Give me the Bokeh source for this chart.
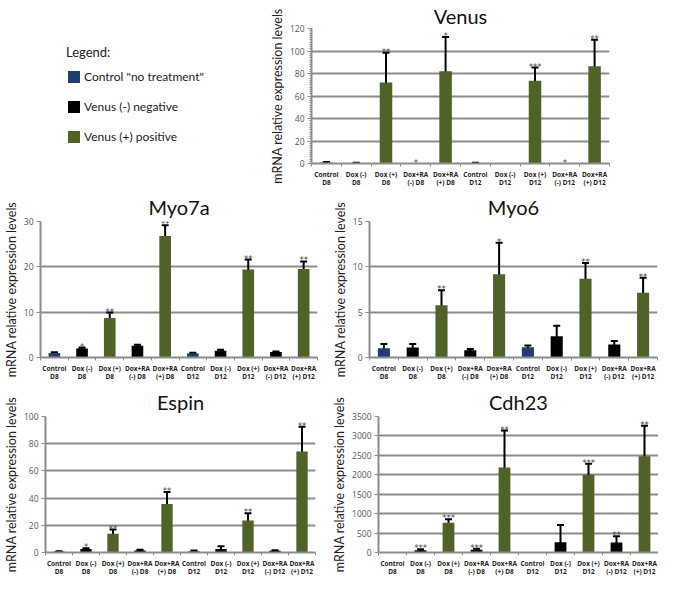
from bokeh.plotting import figure
from bokeh.layouts import row, column
from bokeh.models import (ColumnDataSource, Whisker, TeeHead, FixedTicker, Legend,
                          LegendItem, Range1d)
from bokeh.embed import file_html
from bokeh.resources import INLINE
from bokeh.core.properties import value

# ---------------- data ----------------
categories = ["Control\nD8", "Dox (-)\nD8", "Dox (+)\nD8", "Dox+RA\n(-) D8", "Dox+RA\n(+) D8",
              "Control\nD12", "Dox (-)\nD12", "Dox (+)\nD12", "Dox+RA\n(-) D12", "Dox+RA\n(+) D12"]
groups = ["control", "neg", "pos", "neg", "pos", "control", "neg", "pos", "neg", "pos"]
group_labels = {"control": 'Control "no treatment"', "neg": "Venus (-) negative",
                "pos": "Venus (+) positive"}
group_colors = {"control": "#1f3f6e", "neg": "#000000", "pos": "#4f6228"}
y_label = "mRNA relative expression levels"

venus_vals = [1.0, 0.5, 72, 0, 82, 0.5, 0, 73.5, 0, 86.5]
venus_err = [0.3, 0.2, 26.5, 0, 30.5, 0.2, 0, 11.8, 0, 23.5]
venus_stars = ["", "", "**", "*", "*", "", "", "***", "*", "**"]

myo7a_vals = [1.0, 2.0, 8.7, 2.6, 26.8, 0.9, 1.5, 19.4, 1.2, 19.5]
myo7a_err = [0.15, 0.2, 1.2, 0.2, 2.4, 0.15, 0.2, 2.2, 0.15, 1.7]
myo7a_stars = ["", "*", "**", "", "**", "", "", "**", "", "**"]

myo6_vals = [1.03, 1.1, 5.77, 0.79, 9.17, 1.13, 2.34, 8.69, 1.44, 7.15]
myo6_err = [0.45, 0.38, 1.65, 0.15, 3.5, 0.2, 1.17, 1.72, 0.38, 1.65]
myo6_stars = ["", "", "**", "", "*", "", "", "**", "", "**"]

espin_vals = [0.7, 2.5, 13.7, 1.5, 35.6, 1.0, 2.5, 23.5, 1.2, 74.2]
espin_err = [0.3, 0.7, 3.2, 0.5, 8.9, 0.5, 2.1, 5.4, 0.5, 18.2]
espin_stars = ["", "*", "**", "", "**", "", "", "**", "", "**"]

cdh23_vals = [0, 56, 764, 72, 2188, 0, 265, 2003, 257, 2478]
cdh23_err = [0, 30, 90, 25, 950, 0, 443, 278, 161, 785]
cdh23_stars = ["", "***", "***", "***", "**", "", "", "***", "**", "**"]

FONT = "Lato"
GRID = "#8c8c8c"


def make_panel(title, vals, errs, stars, ymax, ystep, width, height,
               bl, br, title_standoff=2, minor=False):
    p = figure(width=width, height=height, x_range=Range1d(-0.5, len(categories) - 0.5),
               y_range=Range1d(0, ymax), output_backend="svg", toolbar_location=None,
               min_border_left=bl, min_border_right=br, min_border_bottom=0,
               min_border_top=0)
    xs = list(range(len(categories)))
    src = ColumnDataSource(dict(
        x=xs, top=vals, color=[group_colors[g] for g in groups],
    ))
    p.vbar(x="x", top="top", width=0.42, source=src, fill_color="color", line_color=None)
    wsrc = ColumnDataSource(dict(
        x=[x for x, e in zip(xs, errs) if e > 0],
        upper=[v + e for v, e in zip(vals, errs) if e > 0],
        lower=[v - e for v, e in zip(vals, errs) if e > 0],
    ))
    w = Whisker(base="x", upper="upper", lower="lower", source=wsrc,
                line_color="black", line_width=2,
                upper_head=TeeHead(size=7, line_width=2, line_color="black"),
                lower_head=TeeHead(size=7, line_width=2, line_color="black"))
    p.add_layout(w)
    ssrc = ColumnDataSource(dict(
        x=[x for x, s in zip(xs, stars) if s],
        y=[v + e for v, e, s in zip(vals, errs, stars) if s],
        stars=[s for s in stars if s],
    ))
    p.text(x="x", y="y", text="stars", source=ssrc, text_align="center",
           text_baseline="alphabetic", text_font=value("DejaVu Sans"),
           text_font_size="8.5px", text_color="#444444", y_offset=-1)

    p.title.text = title
    p.title.text_font = FONT
    p.title.text_font_size = "20px"
    p.title.text_font_style = "normal"
    p.title.align = "center"
    p.title.text_color = "#111111"
    p.title.standoff = title_standoff

    p.outline_line_color = None
    p.xgrid.grid_line_color = None
    p.ygrid.grid_line_color = GRID
    p.ygrid.grid_line_width = 2

    p.yaxis.ticker = FixedTicker(ticks=list(range(0, ymax + 1, ystep)),
                                 minor_ticks=([t / 10 * ystep for t in range(0, ymax // ystep * 10 + 1)] if minor else []))
    p.yaxis.axis_label = y_label
    p.yaxis.axis_label_text_font = FONT
    p.yaxis.axis_label_text_font_size = "12.5px"
    p.yaxis.axis_label_text_font_style = "normal"
    p.yaxis.axis_label_text_color = "#222222"
    p.yaxis.axis_label_standoff = 2
    p.yaxis.major_label_text_font = "Open Sans"
    p.yaxis.major_label_text_font_size = "8.5px"
    p.yaxis.major_label_text_color = "#555555"
    p.yaxis.major_label_standoff = 3
    p.yaxis.axis_line_color = GRID
    p.yaxis.axis_line_width = 2
    p.yaxis.major_tick_line_color = GRID
    p.yaxis.major_tick_out = 4
    p.yaxis.major_tick_in = 0
    p.yaxis.minor_tick_line_color = GRID if minor else None
    p.yaxis.minor_tick_out = 2
    p.yaxis.minor_tick_in = 0

    ax = p.xaxis[0]
    ax.axis_label = None
    ax.axis_label_standoff = 0
    ax.axis_label_text_font_size = "0px"
    ax.ticker = FixedTicker(ticks=xs, minor_ticks=[x - 0.5 for x in xs] + [xs[-1] + 0.5])
    ax.major_label_overrides = {x: c for x, c in zip(xs, categories)}
    ax.major_label_text_font = "Open Sans"
    ax.major_label_text_font_size = "6.5px"
    ax.major_label_text_font_style = "bold"
    ax.major_label_text_color = "#222222"
    ax.major_label_text_line_height = 0.95
    ax.major_label_standoff = 3
    ax.axis_line_color = GRID
    ax.axis_line_width = 2
    ax.major_tick_line_color = None
    ax.major_tick_out = 0
    ax.major_tick_in = 0
    ax.minor_tick_line_color = GRID
    ax.minor_tick_out = 3
    ax.minor_tick_in = 0
    return p


# ---------------- legend panel ----------------
leg = figure(width=266, height=190, x_range=Range1d(0, 1), y_range=Range1d(0, 1),
             output_backend="svg", toolbar_location=None, min_border=0)
leg.axis.visible = False
leg.grid.visible = False
leg.outline_line_color = None
items = []
for g in ["control", "neg", "pos"]:
    r = leg.vbar(x=[5], top=[5], width=0.1, fill_color=group_colors[g], line_color=None)
    items.append(LegendItem(label=group_labels[g], renderers=[r]))
legend = Legend(items=items, location=(66, 19), title="Legend:",
                title_text_font=FONT, title_text_font_size="13px",
                title_text_font_style="normal", title_text_color="#222222",
                title_standoff=9,
                label_text_font=FONT, label_text_font_size="12px",
                label_text_color="#222222",
                glyph_width=15, glyph_height=15, label_height=15, spacing=15,
                label_standoff=3, padding=0, margin=0,
                border_line_color=None, background_fill_alpha=0)
leg.add_layout(legend)

venus = make_panel("Venus", venus_vals, venus_err, venus_stars, 120, 20,
                   392, 190, 38, 49, minor=True)
myo7a = make_panel("Myo7a", myo7a_vals, myo7a_err, myo7a_stars, 30, 10,
                   329, 194, 29, 12, title_standoff=5)
myo6 = make_panel("Myo6", myo6_vals, myo6_err, myo6_stars, 15, 5,
                  329, 194, 39, 1, title_standoff=5)
espin = make_panel("Espin", espin_vals, espin_err, espin_stars, 100, 20,
                   329, 195, 29, 14, title_standoff=6)
cdh23 = make_panel("Cdh23", cdh23_vals, cdh23_err, cdh23_stars, 3500, 500,
                   329, 195, 48, 0, title_standoff=6)

layout = column(row(leg, venus), row(myo7a, myo6), row(espin, cdh23))

open("out.html", "w").write(file_html(layout, INLINE))
